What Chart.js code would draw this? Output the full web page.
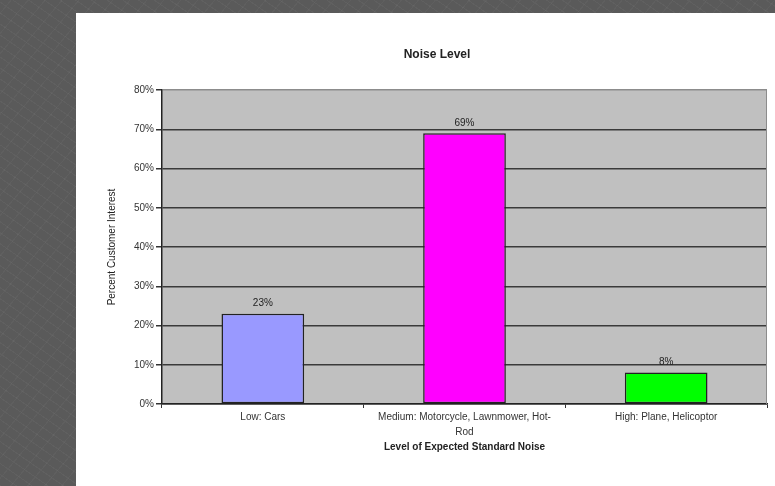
<!DOCTYPE html>
<html>
<head>
<meta charset="utf-8">
<script src="https://cdn.jsdelivr.net/npm/chart.js@4/dist/chart.umd.min.js"></script>
<style>
  html,body{margin:0;padding:0;}
  body{width:775px;height:486px;overflow:hidden;position:relative;
    background:#5a5a5a;
    background-image:
      repeating-linear-gradient(35deg, rgba(255,255,255,.035) 0 1px, transparent 1px 9px),
      repeating-linear-gradient(-50deg, rgba(255,255,255,.03) 0 1px, transparent 1px 13px);
  }
  #panel{position:absolute;left:76px;top:13px;width:699px;height:473px;background:#fff;}
  canvas{display:block;}
</style>
</head>
<body>
<div id="panel"><canvas id="noiseChart" width="699" height="473"></canvas></div>
<script>
  const categories = [
    'Low: Cars',
    ['Medium: Motorcycle, Lawnmower, Hot-', 'Rod'],
    'High: Plane, Helicoptor'
  ];
  const interest = [23, 69, 8];
  const barColors = ['#9999ff', '#ff00ff', '#00ff00'];
  const yTicks = [0, 10, 20, 30, 40, 50, 60, 70, 80];

  const FONT = '"Liberation Sans", Arial, sans-serif';

  // grey plot area, light frame, title and value labels
  const plotDecor = {
    id: 'plotDecor',
    beforeDraw(chart){
      const {ctx, chartArea:a} = chart;
      ctx.save();
      ctx.fillStyle = '#c0c0c0';
      ctx.fillRect(a.left, a.top, a.right - a.left, a.bottom - a.top);
      ctx.restore();
    },
    beforeDatasetsDraw(chart){
      const {ctx, chartArea:a} = chart;
      ctx.save();
      ctx.strokeStyle = '#8c8c8c';
      ctx.lineWidth = 1;
      ctx.beginPath();
      ctx.moveTo(a.right - 0.5, a.top);
      ctx.lineTo(a.right - 0.5, a.bottom);
      ctx.stroke();
      ctx.restore();
    },
    afterDatasetsDraw(chart){
      const {ctx} = chart;
      ctx.save();
      ctx.font = '10px ' + FONT;
      ctx.fillStyle = '#222';
      ctx.textAlign = 'center';
      ctx.textBaseline = 'middle';
      chart.getDatasetMeta(0).data.forEach((bar, i)=>{
        ctx.fillText(Math.round(interest[i]) + '%', bar.x, bar.y - 10);
      });
      ctx.font = 'bold 12px ' + FONT;
      ctx.fillText('Noise Level', 361, 42);
      ctx.restore();
    }
  };

  new Chart(document.getElementById('noiseChart'), {
    type: 'bar',
    data: {
      labels: categories,
      datasets: [{
        label: 'Percent Customer Interest',
        data: interest,
        backgroundColor: barColors,
        borderColor: '#222',
        borderWidth: 1.5,
        borderSkipped: false,
        barPercentage: 0.41,
        categoryPercentage: 1
      }]
    },
    options: {
      responsive: false,
      devicePixelRatio: 1,
      animation: false,
      layout: {padding: {top: 77, right: 8, left: 0, bottom: 0}},
      plugins: {legend: {display: false}, tooltip: {enabled: false}, title: {display: false}},
      scales: {
        x: {
          afterFit(scale){ scale.height = 82; },
          grid: {drawOnChartArea: false, drawTicks: true, tickLength: 4, color: '#333', offset: true},
          border: {color: '#222', width: 1.5},
          ticks: {color: '#333', padding: 2, maxRotation: 0, autoSkip: false,
            font: {family: FONT, size: 10, lineHeight: 1.5}},
          title: {display: true, text: 'Level of Expected Standard Noise', color: '#222',
            font: {family: FONT, size: 10, weight: 'bold', lineHeight: 1.2},
            padding: {top: 0, bottom: 33}}
        },
        y: {
          min: yTicks[0],
          max: yTicks[yTicks.length - 1],
          afterFit(scale){ scale.width = 86; },
          afterBuildTicks(scale){ scale.ticks = yTicks.map(v=>({value: v})); },
          grid: {
            color: ctx => ctx.tick && ctx.tick.value === 80 ? '#8c8c8c' : '#3a3a3a',
            tickColor: '#333',
            lineWidth: 1.5,
            tickLength: 6
          },
          border: {color: '#222', width: 1.5},
          ticks: {color: '#333', padding: 2, font: {family: FONT, size: 10},
            callback: v => v + '%'},
          title: {display: true, text: 'Percent Customer Interest', color: '#222',
            font: {family: FONT, size: 10, lineHeight: 1.2},
            padding: {top: 30, bottom: 0}}
        }
      }
    },
    plugins: [plotDecor]
  });
</script>
</body>
</html>
